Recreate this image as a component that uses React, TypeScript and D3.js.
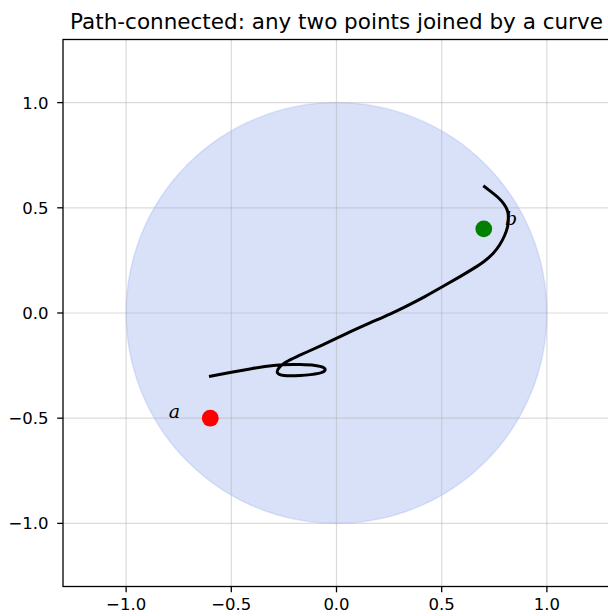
import React from "react";
import * as d3 from "d3";

// curve from a to b
const curveX = [-0.606, -0.506, -0.411, -0.34, -0.259, -0.173, -0.102, -0.062, -0.055, -0.085, -0.173, -0.249, -0.281, -0.272, -0.24, -0.188, -0.135, -0.031, 0.064, 0.159, 0.254, 0.333, 0.42, 0.507, 0.587, 0.65, 0.701, 0.744, 0.775, 0.798, 0.813, 0.817, 0.813, 0.796, 0.768, 0.734, 0.698];
const curveY = [-0.302, -0.283, -0.266, -0.254, -0.246, -0.245, -0.249, -0.259, -0.273, -0.287, -0.297, -0.297, -0.283, -0.259, -0.233, -0.207, -0.183, -0.135, -0.09, -0.047, -0.005, 0.033, 0.078, 0.127, 0.173, 0.211, 0.245, 0.283, 0.323, 0.366, 0.409, 0.447, 0.485, 0.518, 0.549, 0.577, 0.605];

const pointNames = ["a", "b"];
const pointX = [-0.6, 0.7];
const pointY = [-0.5, 0.4];
const pointColors = ["red", "green"];
const labelX = [-0.77, 0.83];
const labelY = [-0.497, 0.416];

const ticks = [-1.0, -0.5, 0.0, 0.5, 1.0];
const tickLabels = ["\u22121.0", "\u22120.5", "0.0", "0.5", "1.0"];

const title = "Path-connected: any two points joined by a curve";

export default function App() {
  const width = 608;
  const height = 616;
  const left = 63;
  const right = 610;
  const top = 39.5;
  const bottom = 586.5;

  const x = d3.scaleLinear().domain([-1.3, 1.3]).range([left, right]);
  const y = d3.scaleLinear().domain([-1.3, 1.3]).range([bottom, top]);

  const pts = curveX.map((v, i) => [v, curveY[i]] as [number, number]);
  const line = d3
    .line<[number, number]>()
    .x((d) => x(d[0]))
    .y((d) => y(d[1]))
    .curve(d3.curveNatural);

  const r = x(1) - x(0);
  const font = "DejaVu Sans, sans-serif";

  return (
    <div style={{ position: "absolute", left: 0, top: 0 }}>
      <svg width={width} height={height} style={{ display: "block", background: "white" }}>
        <defs>
          <clipPath id="ax">
            <rect x={left} y={top} width={right - left} height={bottom - top} />
          </clipPath>
        </defs>
        <g clipPath="url(#ax)">
          <circle
            cx={x(0)}
            cy={y(0)}
            r={r}
            fill="rgba(65,105,225,0.2)"
            stroke="rgba(65,105,225,0.15)"
            strokeWidth={1.5}
          />
          {ticks.map((t) => (
            <g key={"g" + t}>
              <line x1={x(t)} x2={x(t)} y1={top} y2={bottom} stroke="#b0b0b0" strokeOpacity={0.45} strokeWidth={1.2} />
              <line x1={left} x2={right} y1={y(t)} y2={y(t)} stroke="#b0b0b0" strokeOpacity={0.45} strokeWidth={1.2} />
            </g>
          ))}
          <path d={line(pts) || ""} fill="none" stroke="black" strokeWidth={3} strokeLinecap="butt" strokeLinejoin="round" />
          {pointNames.map((n, i) => (
            <circle key={n} cx={x(pointX[i])} cy={y(pointY[i])} r={8.4} fill={pointColors[i]} />
          ))}
          {pointNames.map((n, i) => (
            <text
              key={"l" + n}
              x={x(labelX[i])}
              y={y(labelY[i])}
              textAnchor="middle"
              fontFamily="DejaVu Serif, serif"
              fontStyle="italic"
              fontSize={19}
              fill="black"
            >
              {n}
            </text>
          ))}
        </g>
        {/* spines */}
        <rect x={left} y={top} width={right - left} height={bottom - top} fill="none" stroke="black" strokeWidth={1.3} />
        {/* x ticks */}
        {ticks.map((t, i) => (
          <g key={"xt" + t}>
            <line x1={x(t)} x2={x(t)} y1={bottom} y2={bottom + 5.8} stroke="black" strokeWidth={1.3} />
            <text x={x(t)} y={bottom + 23.5} textAnchor="middle" fontFamily={font} fontSize={16.5} fill="black">
              {tickLabels[i]}
            </text>
          </g>
        ))}
        {/* y ticks */}
        {ticks.map((t, i) => (
          <g key={"yt" + t}>
            <line x1={left - 5.8} x2={left} y1={y(t)} y2={y(t)} stroke="black" strokeWidth={1.3} />
            <text x={left - 14.5} y={y(t)} dy="0.36em" textAnchor="end" fontFamily={font} fontSize={16.5} fill="black">
              {tickLabels[i]}
            </text>
          </g>
        ))}
        <text x={(left + right) / 2} y={28.5} textAnchor="middle" fontFamily={font} fontSize={21.5} fill="black">
          {title}
        </text>
      </svg>
    </div>
  );
}
